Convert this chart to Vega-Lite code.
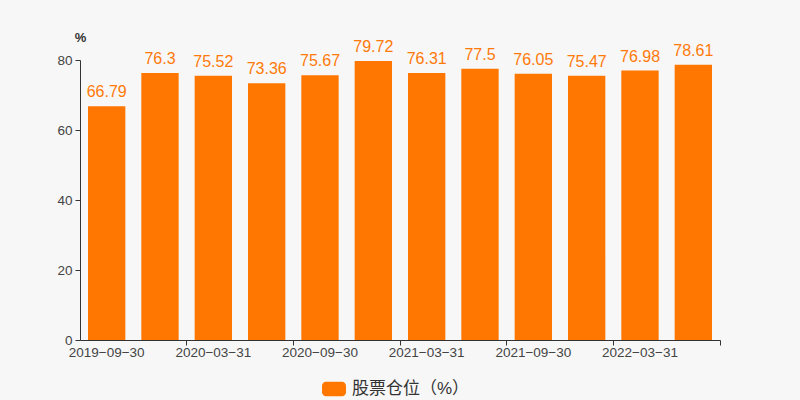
{
  "$schema": "https://vega.github.io/schema/vega-lite/v6.json",
  "autosize": "none",
  "width": 640,
  "height": 280,
  "padding": {"left": 80, "top": 60, "right": 80, "bottom": 60},
  "background": "#f7f7f7",
  "config": {"view": {"stroke": null}, "font": "Liberation Sans"},
  "data": {"values": [
    {"date": "2019-09-30", "value": 66.79},
    {"date": "2019-12-31", "value": 76.3},
    {"date": "2020-03-31", "value": 75.52},
    {"date": "2020-06-30", "value": 73.36},
    {"date": "2020-09-30", "value": 75.67},
    {"date": "2020-12-31", "value": 79.72},
    {"date": "2021-03-31", "value": 76.31},
    {"date": "2021-06-30", "value": 77.5},
    {"date": "2021-09-30", "value": 76.05},
    {"date": "2021-12-31", "value": 75.47},
    {"date": "2022-03-31", "value": 76.98},
    {"date": "2022-06-30", "value": 78.61}
  ]},
  "encoding": {
    "x": {"field": "date", "type": "ordinal", "sort": null,
      "scale": {"paddingInner": 0.3, "paddingOuter": 0.15}},
    "y": {"field": "value", "type": "quantitative",
      "scale": {"domain": [0, 80], "nice": false, "zero": true}}
  },
  "layer": [
    {
      "mark": {"type": "bar", "color": "#ff7700"},
      "encoding": {
        "color": {"datum": "股票仓位（%）", "type": "nominal",
          "scale": {"range": ["#ff7700"]},
          "legend": {"title": null, "orient": "none", "legendX": 242, "legendY": 317,
            "symbolType": "M-0.67,-0.6 H0.67 A0.33,0.33 0 0 1 1,-0.27 V0.27 A0.33,0.33 0 0 1 0.67,0.6 H-0.67 A0.33,0.33 0 0 1 -1,0.27 V-0.27 A0.33,0.33 0 0 1 -0.67,-0.6 Z",
            "symbolSize": 576, "symbolStrokeWidth": 0, "symbolOpacity": 1,
            "labelFontSize": 17, "labelColor": "#333", "labelFont": "Liberation Sans, Noto Sans CJK SC", "labelOffset": 6}},
        "x": {"field": "date", "type": "ordinal", "sort": null,
          "axis": {"title": null, "orient": "bottom", "labels": false, "grid": false,
            "values": ["2019-12-31", "2020-06-30", "2020-12-31", "2021-06-30", "2021-12-31", "2022-06-30"],
            "bandPosition": 1.2143, "ticks": true, "tickSize": 5, "tickColor": "#333",
            "domain": true, "domainColor": "#333"}},
        "y": {"field": "value", "type": "quantitative",
          "axis": {"title": "%", "titleAngle": 0, "titleX": 0, "titleY": -16, "titleAlign": "center",
            "titleBaseline": "bottom", "titleFontSize": 13, "titleFontWeight": "bold", "titleColor": "#333",
            "values": [0, 20, 40, 60, 80], "grid": false, "domainColor": "#333", "tickColor": "#333",
            "tickSize": 5, "labelFontSize": 13.5, "labelColor": "#444", "labelPadding": 3}}
      }
    },
    {
      "mark": {"type": "text", "color": "#ff7a0a", "fontSize": 16, "dy": -6, "baseline": "bottom"},
      "encoding": {
        "text": {"field": "value", "type": "nominal"},
        "x": {"field": "date", "type": "ordinal", "sort": null,
          "axis": {"title": null, "orient": "bottom", "ticks": false, "domain": false, "grid": false,
            "values": ["2019-09-30", "2020-03-31", "2020-09-30", "2021-03-31", "2021-09-30", "2022-03-31"],
            "labelAngle": 0, "labelFontSize": 13.5, "labelColor": "#444", "labelPadding": 5,
            "labelExpr": "replace(datum.label, regexp('-', 'g'), '−')"}}
      }
    }
  ],
  "resolve": {"axis": {"x": "independent"}}
}
